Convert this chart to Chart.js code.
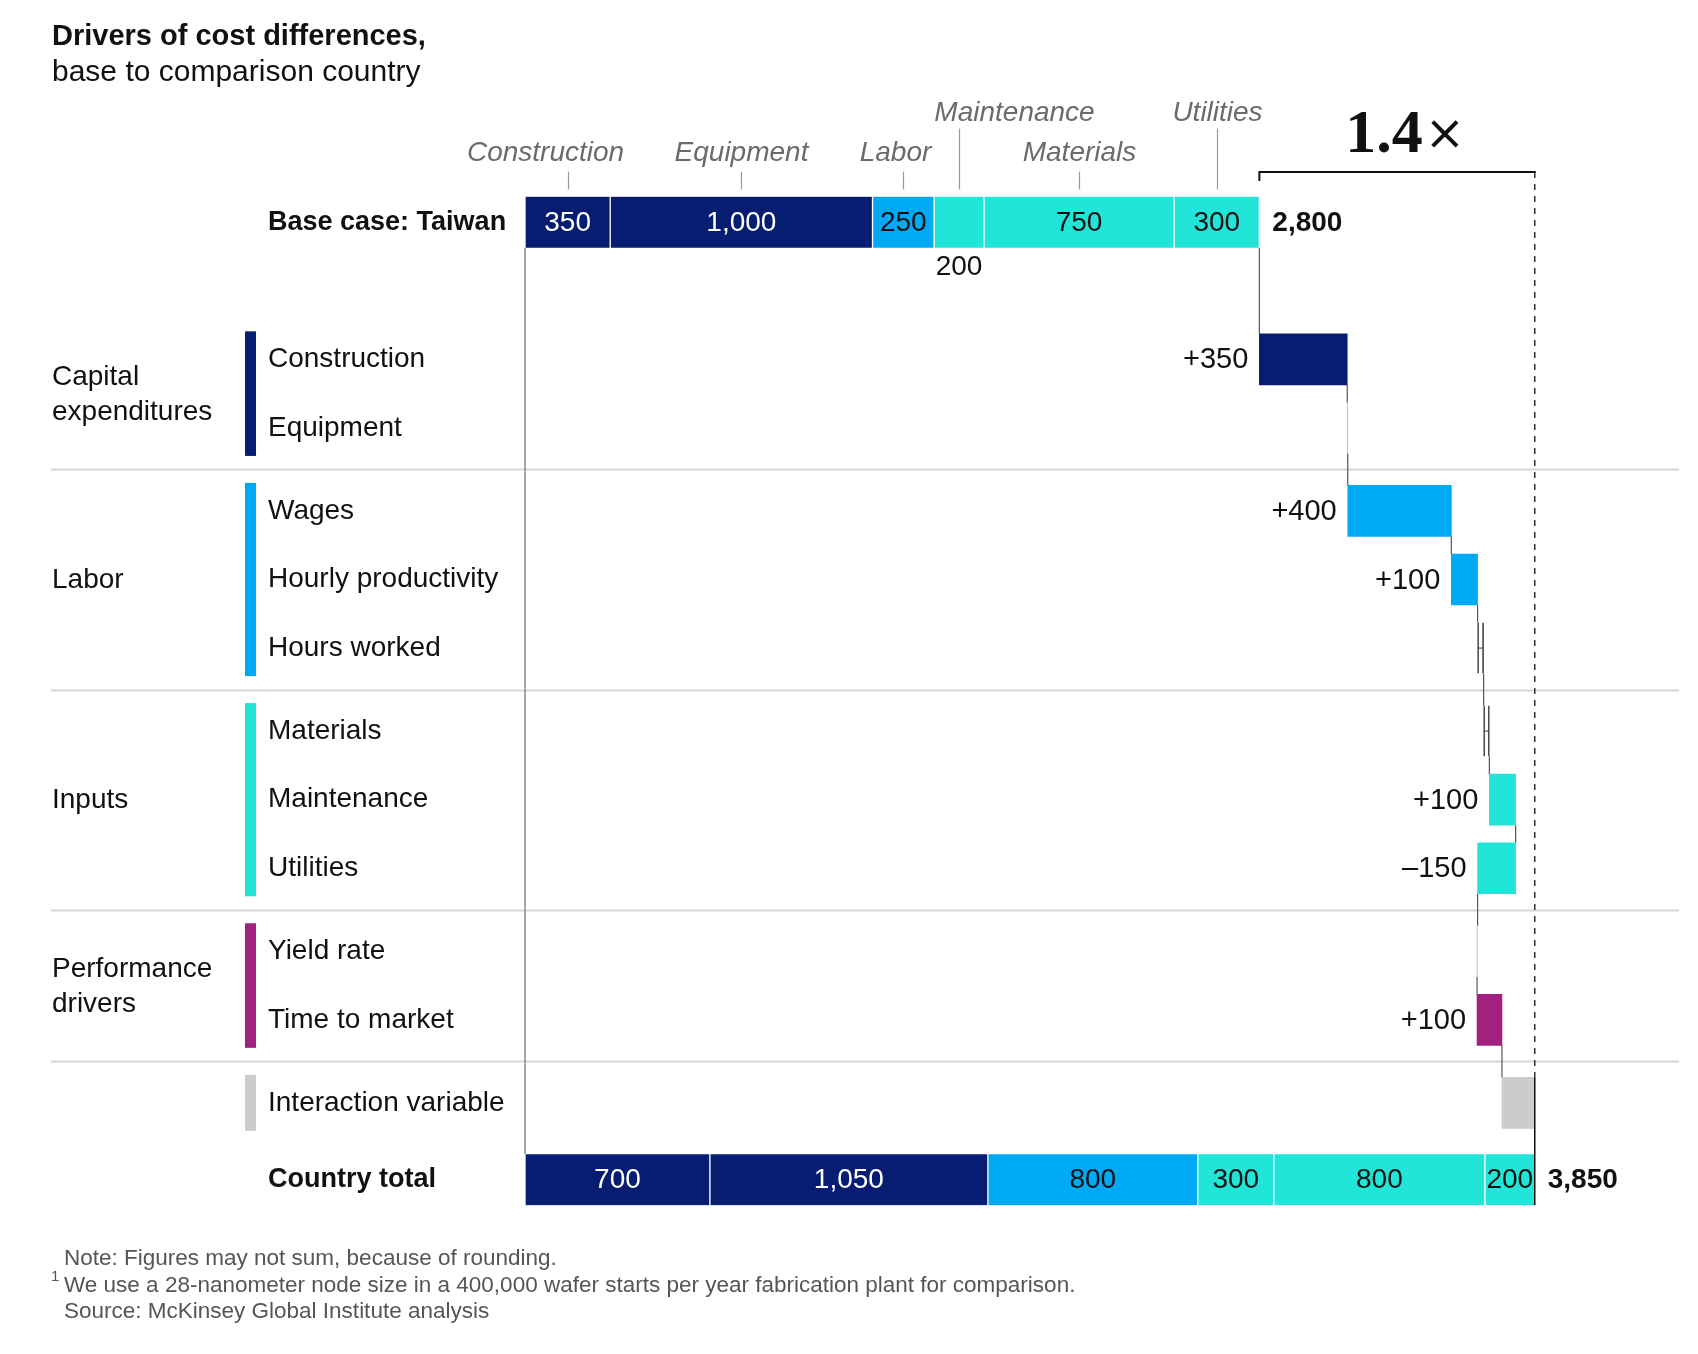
<!DOCTYPE html>
<html>
<head>
<meta charset="utf-8">
<script src="https://cdn.jsdelivr.net/npm/chart.js@4.4.1/dist/chart.umd.min.js"></script>
<style>
  body { margin: 0; background: #fff; font-family: "Liberation Sans", Arial, sans-serif; }
  #wrap { position: relative; width: 1698px; height: 1354px; }
  #chart { position: absolute; left: 0; top: 0; }
  .head { position: absolute; left: 52px; top: 17px; font-size: 30px; line-height: 35px; color: #111; }
  .head b { font-weight: 700; font-size: 29px; }
  .notes { position: absolute; left: 64px; top: 1245px; font-size: 22.5px; line-height: 26.5px; color: #555; }
  .notes sup { position: absolute; left: -13px; top: -4px; font-size: 15px; line-height: 15px; }
</style>
</head>
<body>
<div id="wrap">
  <canvas id="chart" width="1698" height="1354"></canvas>
  <div class="head"><b>Drivers of cost differences,</b><br>base to comparison country</div>
  <div class="notes">
    Note: Figures may not sum, because of rounding.<br>
    <span style="position:relative"><sup>1</sup></span>We use a 28-nanometer node size in a 400,000 wafer starts per year fabrication plant for comparison.<br>
    Source: McKinsey Global Institute analysis
  </div>
</div>
<script>
const FONT = '"Liberation Sans", Arial, sans-serif';
const NAVY = '#061d72', BLUE = '#00a9f4', TEAL = '#22e5da', PURPLE = '#a2217e', GREY = '#cccccc';

// cost components of the stacked bars
const costParts = ['Construction', 'Equipment', 'Labor', 'Maintenance', 'Materials', 'Utilities'];
const partColors = [NAVY, NAVY, BLUE, TEAL, TEAL, TEAL];
const baseValues = [325, 1000, 235, 190, 725, 325];
const baseLabels = ['350', '1,000', '250', '200', '750', '300'];
const totalValues = [705, 1060, 800, 290, 805, 190];
const totalLabels = ['700', '1,050', '800', '300', '800', '200'];

// waterfall drivers
const drivers = ['Construction', 'Equipment', 'Wages', 'Hourly productivity', 'Hours worked',
  'Materials', 'Maintenance', 'Utilities', 'Yield rate', 'Time to market', 'Interaction variable'];
const driverGroup = [0, 0, 1, 1, 1, 2, 2, 2, 3, 3, 4];
const driverDeltas = [335, 2, 395, 100, 23, 22, 100, -145, -2, 95, 125];
const deltaLabels = ['+350', '', '+400', '+100', '', '', '+100', '\u2013150', '', '+100', ''];
const groupNames = [['Capital', 'expenditures'], ['Labor'], ['Inputs'], ['Performance', 'drivers'], []];
const groupColors = [NAVY, BLUE, TEAL, PURPLE, GREY];

const baseName = 'Base case: Taiwan';
const totalName = 'Country total';
const baseTotalLabel = '2,800';
const countryTotalLabel = '3,850';
const multipleLabel = '1.4';

// row layout: extra space between groups
const GROUP_GAP = 0.21;
const driverPos = drivers.map((d, i) => 2 + i + GROUP_GAP * driverGroup[i]);
const totalPos = driverPos[driverPos.length - 1] + 1.12;
const rowPos = [0, ...driverPos, totalPos];
const rowLabels = [baseName, ...drivers, totalName];

const BAR = 51;
const isTiny = d => Math.abs(d) < 30;

// build floating bars
const bars = [], fills = [], strokes = [], strokeW = [];
let cum = 0;
baseValues.forEach((v, i) => {
  bars.push({ x: [cum, cum + v], y: 0 });
  fills.push(partColors[i]); strokes.push('#fff'); strokeW.push({ left: 1, right: 1, top: 0, bottom: 0 });
  cum += v;
});
const baseSum = cum;
const steps = [];
let run = baseSum;
driverDeltas.forEach((d, i) => {
  bars.push({ x: [run, run + d], y: driverPos[i] });
  steps.push([run, run + d]);
  if (isTiny(d)) {
    fills.push('rgba(0,0,0,0)'); strokes.push('#444'); strokeW.push({ left: 1, right: 1, top: 0, bottom: 0 });
  } else {
    fills.push(groupColors[driverGroup[i]]); strokes.push('#fff'); strokeW.push(0);
  }
  run += d;
});
cum = 0;
totalValues.forEach((v, i) => {
  bars.push({ x: [cum, cum + v], y: totalPos });
  fills.push(partColors[i]); strokes.push('#fff'); strokeW.push({ left: 1, right: 1, top: 0, bottom: 0 });
  cum += v;
});
const totalSum = cum;

function line(ctx, x1, y1, x2, y2, color, w, dash) {
  ctx.save();
  ctx.strokeStyle = color; ctx.lineWidth = w;
  ctx.setLineDash(dash || []);
  ctx.beginPath(); ctx.moveTo(x1, y1); ctx.lineTo(x2, y2); ctx.stroke();
  ctx.restore();
}

const decor = {
  id: 'decor',
  beforeDatasetsDraw(chart) {
    const ctx = chart.ctx, x = chart.scales.x, y = chart.scales.y, ca = chart.chartArea;
    // group dividers
    for (let i = 1; i < drivers.length; i++) {
      if (driverGroup[i] !== driverGroup[i - 1]) {
        const yy = Math.round(y.getPixelForValue((driverPos[i - 1] + driverPos[i]) / 2)) + 0.5;
        line(ctx, 51, yy, ca.right, yy, '#d6d6d6', 2);
      }
    }
    // left base line
    const x0 = x.getPixelForValue(0);
    line(ctx, x0, y.getPixelForValue(0) + BAR / 2, x0, y.getPixelForValue(totalPos) - BAR / 2, '#8a8a8a', 1.5);
    // connectors
    let prevPos = 0, prevEnd = baseSum;
    steps.forEach((s, i) => {
      const xx = x.getPixelForValue(prevEnd);
      line(ctx, xx, y.getPixelForValue(prevPos) + BAR / 2, xx, y.getPixelForValue(driverPos[i]) - BAR / 2, '#555', 1.2);
      prevPos = driverPos[i]; prevEnd = s[1];
    });
  },
  afterDatasetsDraw(chart) {
    const ctx = chart.ctx, x = chart.scales.x, y = chart.scales.y;
    const yBase = y.getPixelForValue(0), yTot = y.getPixelForValue(totalPos);
    const xEnd = x.getPixelForValue(totalSum), xBaseEnd = x.getPixelForValue(baseSum);

    // last driver to country total, and the dashed guide
    const yInter = y.getPixelForValue(driverPos[driverPos.length - 1]) - BAR / 2;
    line(ctx, xEnd, yInter, xEnd, yTot + BAR / 2, '#111', 1.5);
    line(ctx, xEnd, 172, xEnd, yInter, '#333', 1.5, [6, 6]);

    // tiny bar middle ticks
    steps.forEach((s, i) => {
      if (isTiny(driverDeltas[i]) && Math.abs(driverDeltas[i]) > 10) {
        const yy = y.getPixelForValue(driverPos[i]);
        line(ctx, x.getPixelForValue(s[0]), yy, x.getPixelForValue(s[1]), yy, '#555', 1.2);
      }
    });

    ctx.save();
    ctx.textBaseline = 'middle';
    ctx.font = '28px ' + FONT;
    // segment labels
    const segLabels = (vals, labels, yy, below) => {
      let c = 0;
      vals.forEach((v, i) => {
        const xc = x.getPixelForValue(c + v / 2);
        ctx.textAlign = 'center';
        if (below.includes(i)) {
          ctx.fillStyle = '#111';
          ctx.fillText(labels[i], xc, yy + BAR / 2 + 20);
        } else {
          ctx.fillStyle = partColors[i] === NAVY ? '#fff' : '#111';
          ctx.fillText(labels[i], xc, yy + 1);
        }
        c += v;
      });
    };
    segLabels(baseValues, baseLabels, yBase, [3]);
    segLabels(totalValues, totalLabels, yTot, []);

    // delta labels
    ctx.font = '29px ' + FONT;
    ctx.fillStyle = '#111'; ctx.textAlign = 'right';
    steps.forEach((s, i) => {
      if (!deltaLabels[i]) return;
      ctx.fillText(deltaLabels[i], x.getPixelForValue(Math.min(s[0], s[1])) - 11, y.getPixelForValue(driverPos[i]) + 1);
    });

    // bar totals
    ctx.font = 'bold 28px ' + FONT; ctx.textAlign = 'left';
    ctx.fillText(baseTotalLabel, xBaseEnd + 13, yBase + 1);
    ctx.fillText(countryTotalLabel, xEnd + 13, yTot + 1);

    // header labels over base bar
    const top = yBase - BAR / 2;
    const raised = [3, 5];
    const shift = [-23, 0, -8, 55, 0, 0];
    ctx.font = 'italic 28px ' + FONT; ctx.fillStyle = '#6b6b6b'; ctx.textAlign = 'center';
    let c = 0;
    baseValues.forEach((v, i) => {
      const xc = Math.round(x.getPixelForValue(c + v / 2)) + 0.5;
      const up = raised.includes(i);
      ctx.fillText(costParts[i], xc + shift[i], up ? top - 83 : top - 43);
      line(ctx, xc, up ? top - 68 : top - 25, xc, top - 7, '#9a9a9a', 1.2);
      c += v;
    });

    // bracket and multiple
    line(ctx, xBaseEnd, 172, xEnd + 1, 172, '#111', 2);
    line(ctx, xBaseEnd, 171, xBaseEnd, 181, '#111', 2);
    const mx = (xBaseEnd + xEnd) / 2 + 7;
    ctx.textBaseline = 'alphabetic';
    const numFont = 'bold 62px "Liberation Serif", "DejaVu Serif", serif';
    const xFont = '48px "DejaVu Sans", sans-serif';
    ctx.font = numFont;
    const w1 = ctx.measureText(multipleLabel).width;
    ctx.font = xFont;
    const w2 = ctx.measureText('\u00d7').width;
    ctx.fillStyle = '#111'; ctx.textAlign = 'left';
    ctx.font = numFont;
    ctx.fillText(multipleLabel, mx - (w1 + w2) / 2, 152);
    ctx.font = xFont;
    ctx.fillText('\u00d7', mx - (w1 + w2) / 2 + w1 + 2, 149);

    // group markers and names
    ctx.textBaseline = 'middle'; ctx.font = '28px ' + FONT; ctx.textAlign = 'left';
    groupNames.forEach((names, g) => {
      const rows = driverPos.filter((p, i) => driverGroup[i] === g);
      const y1 = y.getPixelForValue(rows[0]) - 28, y2 = y.getPixelForValue(rows[rows.length - 1]) + 28;
      ctx.fillStyle = groupColors[g];
      ctx.fillRect(245, y1, 11, y2 - y1);
      const mid = (y1 + y2) / 2;
      ctx.fillStyle = '#111';
      names.forEach((n, k) => ctx.fillText(n, 52, mid + (k - (names.length - 1) / 2) * 35 + 1));
    });
    ctx.restore();
  }
};

new Chart(document.getElementById('chart'), {
  type: 'bar',
  data: {
    datasets: [{
      data: bars,
      backgroundColor: fills,
      borderColor: strokes,
      borderWidth: ctx => strokeW[ctx.dataIndex],
      borderSkipped: false,
      barThickness: BAR
    }]
  },
  options: {
    indexAxis: 'y',
    responsive: false,
    animation: false,
    layout: { padding: { left: 268, right: 19, top: 181, bottom: 127 } },
    plugins: { legend: { display: false }, tooltip: { enabled: false } },
    scales: {
      x: { type: 'linear', min: 0, max: 4400, display: false },
      y: {
        type: 'linear', reverse: true, min: -0.6, max: 14.65, offset: false,
        afterFit: s => { s.width = 257; },
        afterBuildTicks: s => { s.ticks = rowPos.map(v => ({ value: v })); },
        grid: { display: false, drawTicks: false },
        border: { display: false },
        ticks: {
          autoSkip: false, crossAlign: 'far', padding: 0, color: '#111',
          callback: (v, i) => rowLabels[i],
          font: ctx => {
            const bold = ctx.index === 0 || ctx.index === rowPos.length - 1;
            return { family: FONT, size: bold ? 27 : 28, weight: bold ? 'bold' : 'normal' };
          }
        }
      }
    }
  },
  plugins: [decor]
});
</script>
</body>
</html>
